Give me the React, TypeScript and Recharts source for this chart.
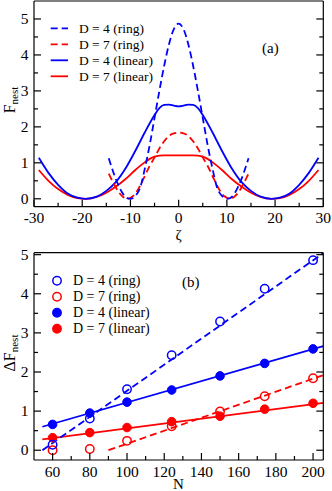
import { ComposedChart, Line, Scatter, XAxis, YAxis, Legend } from "recharts";

const BLUE = "#0000ff";
const RED = "#ff0000";
const SERIF = "'Liberation Serif', 'Times New Roman', serif";

// ---- panel (a): F_nest vs zeta
const zetaRing = [-14.5, -13.5, -12.5, -11.5, -11, -10.5, -10, -9.5, -9, -8, -7, -6, -5, -4, -3, -2, -1, 0,
  1, 2, 3, 4, 5, 6, 7, 8, 9, 9.5, 10, 10.5, 11, 11.5, 12.5, 13.5, 14.5];
const fRingD4 = [1.13, 0.72, 0.38, 0.13, 0.05, 0.01, 0, 0.02, 0.08, 0.3, 0.85, 1.5, 2.25, 3.0, 3.7, 4.3, 4.72, 4.87,
  4.72, 4.3, 3.7, 3.0, 2.25, 1.5, 0.85, 0.3, 0.08, 0.02, 0, 0.01, 0.05, 0.13, 0.38, 0.72, 1.13];
const fRingD7 = [0.7, 0.43, 0.2, 0.05, 0.01, 0, 0.03, 0.07, 0.14, 0.36, 0.64, 0.92, 1.15, 1.4, 1.6, 1.75, 1.82, 1.84,
  1.82, 1.75, 1.6, 1.4, 1.15, 0.92, 0.64, 0.36, 0.14, 0.07, 0.03, 0, 0.01, 0.05, 0.2, 0.43, 0.7];

const zetaLinear = [-29, -27, -25, -23, -21, -19.3, -17, -15, -13, -11, -9, -7, -6, -5, -4, -3, -2, -1, 0,
  1, 2, 3, 4, 5, 6, 7, 9, 11, 13, 15, 17, 19.3, 21, 23, 25, 27, 29];
const fLinearD4 = [1.14, 0.72, 0.39, 0.15, 0.03, 0, 0.06, 0.22, 0.47, 0.85, 1.33, 1.85, 2.1, 2.33, 2.52, 2.61, 2.62, 2.59, 2.57,
  2.59, 2.62, 2.61, 2.52, 2.33, 2.1, 1.85, 1.33, 0.85, 0.47, 0.22, 0.06, 0, 0.03, 0.15, 0.39, 0.72, 1.14];
const fLinearD7 = [0.8, 0.5, 0.27, 0.11, 0.02, 0, 0.05, 0.17, 0.34, 0.55, 0.8, 1.02, 1.11, 1.17, 1.2, 1.21, 1.21, 1.21, 1.21,
  1.21, 1.21, 1.21, 1.2, 1.17, 1.11, 1.02, 0.8, 0.55, 0.34, 0.17, 0.05, 0, 0.02, 0.11, 0.27, 0.5, 0.8];

const zetaTicks = [-30, -25, -20, -15, -10, -5, 0, 5, 10, 15, 20, 25, 30];
const fTicksA = [0, 0.5, 1, 1.5, 2, 2.5, 3, 3.5, 4, 4.5, 5];

// ---- panel (b): delta F_nest vs N
const nValues = [60, 80, 100, 124, 150, 174, 200];
const dRingD4 = [0.14, 0.81, 1.56, 2.43, 3.29, 4.13, 4.86];
const dRingD7 = [0.0, 0.03, 0.24, 0.61, 0.99, 1.38, 1.84];
const dLinearD4 = [0.66, 0.95, 1.23, 1.54, 1.9, 2.22, 2.59];
const dLinearD7 = [0.32, 0.45, 0.58, 0.73, 0.87, 1.05, 1.2];

// straight fits (end points)
const fitRingD4N = [54.5, 205.5];
const fitRingD4 = [0, 5.04];
const fitRingD7N = [90, 205.5];
const fitRingD7 = [0, 1.92];
const fitLinearD4N = [54.5, 205.5];
const fitLinearD4 = [0.6, 2.66];
const fitLinearD7N = [54.5, 205.5];
const fitLinearD7 = [0.28, 1.21];

const nTicks = [60, 70, 80, 90, 100, 110, 120, 130, 140, 150, 160, 170, 180, 190, 200];
const fTicksB = [0, 0.5, 1, 1.5, 2, 2.5, 3, 3.5, 4, 4.5, 5];

const legendNames = ["D = 4 (ring)", "D = 7 (ring)", "D = 4 (linear)", "D = 7 (linear)"];

const rows = (xs: number[], ys: number[]) => xs.map((x, i) => ({ x, f: ys[i] }));

type Side = "bottom" | "top" | "left" | "right";

const makeTick = (side: Side, isMajor: (v: number) => boolean, showLabel: boolean) => (props: any) => {
  const { x, y, payload } = props;
  const v = payload.value as number;
  const major = isMajor(v);
  const len = major ? 7 : 4;
  let x2 = x;
  let y2 = y;
  if (side === "bottom") y2 = y - len;
  if (side === "top") y2 = y + len;
  if (side === "left") x2 = x + len;
  if (side === "right") x2 = x - len;
  return (
    <g>
      <line x1={x} y1={y} x2={x2} y2={y2} stroke="#000" strokeWidth={1.2} />
      {showLabel && major && side === "bottom" && (
        <text x={x} y={y + 16.5} textAnchor="middle" fontSize={15.5} fontFamily={SERIF} fill="#000">
          {String(v)}
        </text>
      )}
      {showLabel && major && side === "left" && (
        <text x={x - 5.5} y={y + 5} textAnchor="end" fontSize={15.5} fontFamily={SERIF} fill="#000">
          {String(v)}
        </text>
      )}
    </g>
  );
};

const axisLine = { stroke: "#000", strokeWidth: 1.2 };

const intTick = (v: number) => Number.isInteger(v);

const LegendA = () => (
  <svg width={150} height={72} style={{ display: "block" }}>
    {legendNames.map((name, i) => {
      const cy = 12.3 + 16 * i;
      const color = i % 2 === 0 ? BLUE : RED;
      return (
        <g key={name}>
          <line x1={6.7} x2={24} y1={cy} y2={cy} stroke={color} strokeWidth={1.8}
            strokeDasharray={i < 2 ? "7 4" : undefined} />
          <text x={35} y={cy + 4.5} fontSize={13.5} fontFamily={SERIF} fill="#000">{name}</text>
        </g>
      );
    })}
  </svg>
);

const LegendB = () => (
  <svg width={150} height={72} style={{ display: "block" }}>
    {legendNames.map((name, i) => {
      const cy = 12.7 + 16 * i;
      const color = i % 2 === 0 ? BLUE : RED;
      return (
        <g key={name}>
          <circle cx={13} cy={cy} r={4.2} fill={i < 2 ? "none" : color} stroke={color} strokeWidth={1.5} />
          <text x={29} y={cy + 4.5} fontSize={14} fontFamily={SERIF} fill="#000">{name}</text>
        </g>
      );
    })}
  </svg>
);

const PanelA = () => (
  <div style={{ position: "relative", width: 332, height: 246 }}>
    <ComposedChart width={332} height={246} margin={{ top: 0, right: 0, bottom: 0, left: 0 }}>
      <XAxis type="number" dataKey="x" domain={[-30, 30]} allowDataOverflow ticks={zetaTicks} interval={0}
        height={39.3} tickSize={0} tickMargin={0} tickLine={false} axisLine={axisLine}
        tick={makeTick("bottom", (v) => v % 10 === 0, true)}
        label={() => (
          <text x={178.7} y={240} textAnchor="middle" fontSize={15} fontFamily={SERIF} fill="#000">ζ</text>
        )} />
      <XAxis xAxisId="top" orientation="top" type="number" domain={[-30, 30]} allowDataOverflow ticks={zetaTicks}
        interval={0} height={1} tickSize={0} tickMargin={0} tickLine={false} axisLine={axisLine}
        tick={makeTick("top", (v) => v % 10 === 0, false)} />
      <YAxis type="number" domain={[-0.22, 5.5]} allowDataOverflow ticks={fTicksA} interval={0} width={34}
        tickSize={0} tickMargin={0} tickLine={false} axisLine={axisLine}
        tick={makeTick("left", intTick, true)}
        label={() => (
          <text x={15} y={100} transform="rotate(-90 15 100)" textAnchor="middle" fontSize={16}
            fontFamily={SERIF} fill="#000">
            F<tspan fontSize={11} dy={3}>nest</tspan>
          </text>
        )} />
      <YAxis yAxisId="right" orientation="right" type="number" domain={[-0.22, 5.5]} allowDataOverflow
        ticks={fTicksA} interval={0} width={8.7} tickSize={0} tickMargin={0} tickLine={false} axisLine={axisLine}
        tick={makeTick("right", intTick, false)} />
      <Legend layout="vertical" align="center" verticalAlign="middle"
        wrapperStyle={{ left: 44, top: 16, width: 150, height: 72 }} content={() => <LegendA />} />
      <Line data={rows(zetaLinear, fLinearD7)} dataKey="f" type="monotone" stroke={RED} strokeWidth={1.8}
        dot={false} isAnimationActive={false} />
      <Line data={rows(zetaLinear, fLinearD4)} dataKey="f" type="monotone" stroke={BLUE} strokeWidth={1.8}
        dot={false} isAnimationActive={false} />
      <Line data={rows(zetaRing, fRingD7)} dataKey="f" type="monotone" stroke={RED} strokeWidth={1.8}
        strokeDasharray="7 4" dot={false} isAnimationActive={false} />
      <Line data={rows(zetaRing, fRingD4)} dataKey="f" type="monotone" stroke={BLUE} strokeWidth={1.8}
        strokeDasharray="7 4" dot={false} isAnimationActive={false} />
    </ComposedChart>
    <div style={{ position: "absolute", left: 262, top: 40, fontSize: 15, fontFamily: SERIF }}>(a)</div>
  </div>
);

const openDot = (color: string) => (p: any) => (
  <circle cx={p.cx} cy={p.cy} r={4.2} fill="none" stroke={color} strokeWidth={1.5} />
);
const fullDot = (color: string) => (p: any) => (
  <circle cx={p.cx} cy={p.cy} r={4.3} fill={color} stroke={color} strokeWidth={1} />
);

const PanelB = () => (
  <div style={{ position: "relative", width: 332, height: 245 }}>
    <ComposedChart width={332} height={245} margin={{ top: 5.7, right: 0, bottom: 0, left: 0 }}>
      <XAxis type="number" dataKey="x" domain={[50, 205.5]} allowDataOverflow ticks={nTicks} interval={0}
        height={31} tickSize={0} tickMargin={0} tickLine={false} axisLine={axisLine}
        tick={makeTick("bottom", (v) => v % 20 === 0, true)}
        label={() => (
          <text x={178.4} y={242.5} textAnchor="middle" fontSize={15} fontFamily={SERIF} fill="#000">N</text>
        )} />
      <XAxis xAxisId="top" orientation="top" type="number" domain={[50, 205.5]} allowDataOverflow ticks={nTicks}
        interval={0} height={1} tickSize={0} tickMargin={0} tickLine={false} axisLine={axisLine}
        tick={makeTick("top", (v) => v % 20 === 0, false)} />
      <YAxis type="number" domain={[-0.25, 5.05]} allowDataOverflow ticks={fTicksB} interval={0} width={34}
        tickSize={0} tickMargin={0} tickLine={false} axisLine={axisLine}
        tick={makeTick("left", intTick, true)}
        label={() => (
          <text x={15} y={107} transform="rotate(-90 15 107)" textAnchor="middle" fontSize={16}
            fontFamily={SERIF} fill="#000">
            ΔF<tspan fontSize={11} dy={3}>nest</tspan>
          </text>
        )} />
      <YAxis yAxisId="right" orientation="right" type="number" domain={[-0.25, 5.05]} allowDataOverflow
        ticks={fTicksB} interval={0} width={8.7} tickSize={0} tickMargin={0} tickLine={false} axisLine={axisLine}
        tick={makeTick("right", intTick, false)} />
      <Legend layout="vertical" align="center" verticalAlign="middle"
        wrapperStyle={{ left: 44, top: 22, width: 150, height: 72 }} content={() => <LegendB />} />
      <Line data={rows(fitLinearD7N, fitLinearD7)} dataKey="f" type="linear" stroke={RED} strokeWidth={1.8}
        dot={false} isAnimationActive={false} />
      <Line data={rows(fitLinearD4N, fitLinearD4)} dataKey="f" type="linear" stroke={BLUE} strokeWidth={1.8}
        dot={false} isAnimationActive={false} />
      <Line data={rows(fitRingD7N, fitRingD7)} dataKey="f" type="linear" stroke={RED} strokeWidth={1.8}
        strokeDasharray="7 4" dot={false} isAnimationActive={false} />
      <Line data={rows(fitRingD4N, fitRingD4)} dataKey="f" type="linear" stroke={BLUE} strokeWidth={1.8}
        strokeDasharray="7 4" dot={false} isAnimationActive={false} />
      <Scatter data={rows(nValues, dLinearD7)} dataKey="f" shape={fullDot(RED)} isAnimationActive={false} />
      <Scatter data={rows(nValues, dLinearD4)} dataKey="f" shape={fullDot(BLUE)} isAnimationActive={false} />
      <Scatter data={rows(nValues, dRingD7)} dataKey="f" shape={openDot(RED)} isAnimationActive={false} />
      <Scatter data={rows(nValues, dRingD4)} dataKey="f" shape={openDot(BLUE)} isAnimationActive={false} />
    </ComposedChart>
    <div style={{ position: "absolute", left: 182, top: 28, fontSize: 15, fontFamily: SERIF }}>(b)</div>
  </div>
);

export default function App() {
  return (
    <div style={{ position: "absolute", left: 0, top: 0, width: 332, height: 491, background: "#fff", fontFamily: SERIF }}>
      <div style={{ position: "absolute", left: 0, top: 0 }}>
        <PanelA />
      </div>
      <div style={{ position: "absolute", left: 0, top: 246 }}>
        <PanelB />
      </div>
    </div>
  );
}
